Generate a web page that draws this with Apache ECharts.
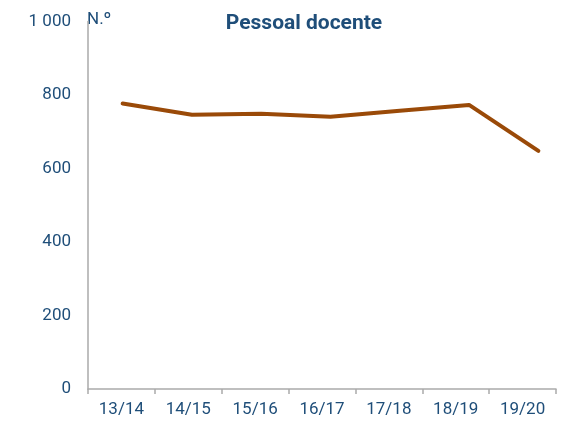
<!DOCTYPE html>
<html>
<head>
<meta charset="utf-8">
<script src="https://cdn.jsdelivr.net/npm/echarts@6/dist/echarts.min.js"></script>
<style>
  html, body { margin: 0; padding: 0; background: #fff; }
  #main { width: 582px; height: 421px; }
</style>
</head>
<body>
<div id="main"></div>
<script>
// anos letivos
var anos = ["13/14", "14/15", "15/16", "16/17", "17/18", "18/19", "19/20"];
// pessoal docente (N.º)
var docentes = [777, 746, 749, 741, 757, 773, 648];

var azul = "#1f4e79";
var chart = echarts.init(document.getElementById("main"));
chart.setOption({
  animation: false,
  textStyle: { fontFamily: "Roboto" },
  title: {
    text: "Pessoal docente",
    left: 299,
    top: 8,
    textAlign: "center",
    textStyle: { color: azul, fontSize: 21, fontWeight: "bold", fontFamily: "Roboto" }
  },
  graphic: [{
    type: "text",
    left: 87,
    top: 11,
    style: { text: "N.º", fill: azul, font: "17px Roboto" }
  }],
  grid: [
    { left: 88, right: 26, top: 21.5, bottom: 32 },
    { left: 88, right: 9, top: 21.5, bottom: 32 }
  ],
  xAxis: [
    {
      type: "category",
      gridIndex: 0,
      data: anos,
      boundaryGap: true,
      axisLine: { lineStyle: { color: "#aaaaaa", width: 1.5 } },
      axisTick: { show: true, length: 5, lineStyle: { color: "#aaaaaa", width: 1.5 } },
      axisLabel: { color: azul, fontSize: 17, margin: 12 }
    },
    {
      type: "category",
      gridIndex: 1,
      data: anos,
      boundaryGap: true,
      show: false
    }
  ],
  yAxis: [
    {
      type: "value",
      gridIndex: 0,
      min: 0,
      max: 1000,
      interval: 200,
      axisLine: { show: true, lineStyle: { color: "#aaaaaa", width: 1.5 } },
      axisTick: { show: false },
      splitLine: { show: false },
      axisLabel: {
        color: azul,
        fontSize: 17,
        margin: 17,
        formatter: function (v) {
          return String(v).replace(/\B(?=(\d{3})+(?!\d))/g, " ");
        }
      }
    },
    {
      type: "value",
      gridIndex: 1,
      min: 0,
      max: 1000,
      interval: 200,
      show: false,
      splitLine: { show: false }
    }
  ],
  series: [{
    name: "Pessoal docente",
    type: "line",
    xAxisIndex: 1,
    yAxisIndex: 1,
    data: docentes,
    symbol: "none",
    lineStyle: { color: "#9a4a08", width: 4, cap: "round", join: "round" }
  }]
});
</script>
</body>
</html>
